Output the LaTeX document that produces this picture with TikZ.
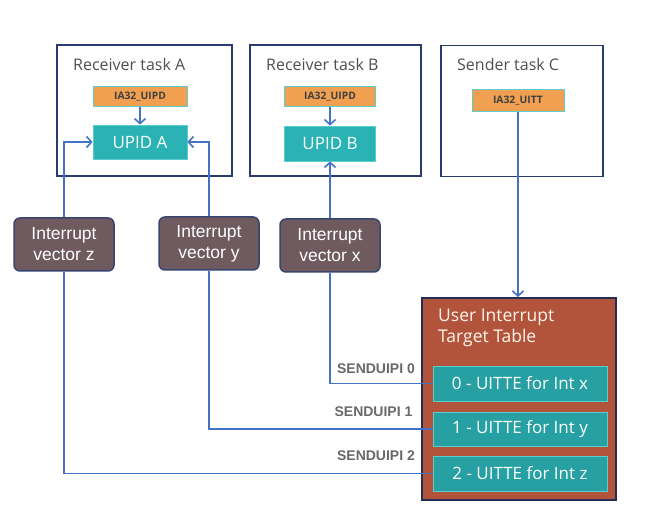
\documentclass[tikz,border=0pt]{standalone}
\usepackage{fontspec}
\setmainfont{Open Sans}
\newfontfamily\arialf{Liberation Sans}
\usetikzlibrary{arrows.meta,backgrounds}
\definecolor{frameblue}{RGB}{40,60,110}
\definecolor{regorange}{RGB}{240,160,80}
\definecolor{regborder}{RGB}{90,205,205}
\definecolor{tealfill}{RGB}{42,178,180}
\definecolor{tealborder}{RGB}{90,205,205}
\definecolor{vecfill}{RGB}{110,90,95}
\definecolor{vecborder}{RGB}{55,70,110}
\definecolor{tablefill}{RGB}{178,84,60}
\definecolor{tableborder}{RGB}{35,45,85}
\definecolor{linkblue}{RGB}{68,114,196}
\definecolor{textgray}{RGB}{80,80,80}
\definecolor{labelgray}{RGB}{105,105,105}
\begin{document}
\begin{tikzpicture}[x=1pt,y=-1pt,
  taskbox/.style={draw=frameblue,line width=1.3pt,minimum width=#1,minimum height=131pt,inner sep=0pt},
  tasktitle/.style={anchor=west,inner sep=0pt,text=textgray,font=\fontsize{16}{19}\selectfont},
  regbox/.style={draw=regborder,line width=1pt,fill=regorange,minimum width=#1,minimum height=20pt,inner sep=0pt,text=textgray!80!black,font=\bfseries\fontsize{10.3}{12}\selectfont},
  upidbox/.style={draw=tealborder,line width=0.8pt,fill=tealfill,minimum width=#1,minimum height=34pt,inner sep=0pt,text=white,font=\fontsize{17}{20}\selectfont},
  vecbox/.style={draw=vecborder,line width=1.5pt,fill=vecfill,rounded corners=6pt,minimum width=100pt,minimum height=53pt,inner sep=0pt,align=center,text=white,font=\arialf\fontsize{17.5}{21}\selectfont},
  tablebox/.style={draw=tableborder,line width=2pt,fill=tablefill,minimum width=194pt,minimum height=202pt,inner sep=0pt},
  entrybox/.style={draw=tealborder,line width=0.8pt,fill=tealfill!90!black,minimum width=174pt,minimum height=35pt,inner sep=0pt,text=white,font=\fontsize{17}{20}\selectfont},
  sendlabel/.style={inner sep=0pt,text=labelgray,font=\arialf\bfseries\fontsize{14}{16}\selectfont},
  link/.style={draw=linkblue,line width=1.6pt},
  arr/.style={link,-{Straight Barb[length=5pt,width=11pt,line width=1.6pt]}}
]
\useasboundingbox (0,0) rectangle (649,524);
\begin{scope}[on background layer]
\fill[white] (0,0) rectangle (649,524);
\end{scope}

% task boxes
\node[taskbox=175pt] (taskA) at (144.5,110.5) {};
\node[taskbox=171pt] (taskB) at (335.5,110.5) {};
\node[taskbox=162pt] (taskC) at (522,111) {};
\node[tasktitle] (titleA) at (73,65) {Receiver task A};
\node[tasktitle] (titleB) at (266,65) {Receiver task B};
\node[tasktitle] (titleC) at (457,65) {Sender task C};

\node[regbox=94pt] (uipdA) at (140,97) {IA32\_UIPD};
\node[regbox=91pt] (uipdB) at (330,97) {IA32\_UIPD};
\node[regbox=92pt,minimum height=22pt] (uitt) at (518,101) {IA32\_UITT};

\node[upidbox=94pt] (upidA) at (140,142) {UPID A};
\node[upidbox=91pt,minimum height=35pt] (upidB) at (330,143.5) {UPID B};

% interrupt vectors
\node[vecbox] (vz) at (64,244.5) {Interrupt\\vector z};
\node[vecbox] (vy) at (209,243.5) {Interrupt\\vector y};
\node[vecbox] (vx) at (330,245.5) {Interrupt\\vector x};

% table
\node[tablebox] (table) at (519,399) {};
\node[anchor=west,inner sep=0pt,align=left,text=white!92!orange,font=\fontsize{17.5}{21}\selectfont] (ttitle) at (438,328) {User Interrupt\\Target Table};
\node[entrybox] (e0) at (520,383.5) {0 - UITTE for Int x};
\node[entrybox,minimum height=34pt] (e1) at (520,429) {1 - UITTE for Int y};
\node[entrybox] (e2) at (520,473.5) {2 - UITTE for Int z};

\node[sendlabel] (s0) at (376,369) {SENDUIPI 0};
\node[sendlabel] (s1) at (373.5,412) {SENDUIPI 1};
\node[sendlabel] (s2) at (376,456) {SENDUIPI 2};

% connectors
\draw[arr] (uipdA.south) -- (upidA.north);
\draw[arr] (uipdB.south) -- (upidB.north);
\begin{scope}[on background layer]
\draw[link] (e2.west) -| (vz.south);
\draw[link] (e1.west) -| (vy.south);
\draw[link] (e0.west) -| (vx.south);
\end{scope}
\draw[link] (e2.west) -- (e2.west -| table.west);
\draw[link] (e1.west) -- (e1.west -| table.west);
\draw[link] (e0.west) -- (e0.west -| table.west);
\draw[arr] (vz.north) |- (upidA.west);
\draw[arr] (vy.north) |- (upidA.east);
\draw[arr] (vx.north) -- (upidB.south);
\draw[arr] (uitt.south) -- (uitt.south |- table.north);
\end{tikzpicture}
\end{document}
